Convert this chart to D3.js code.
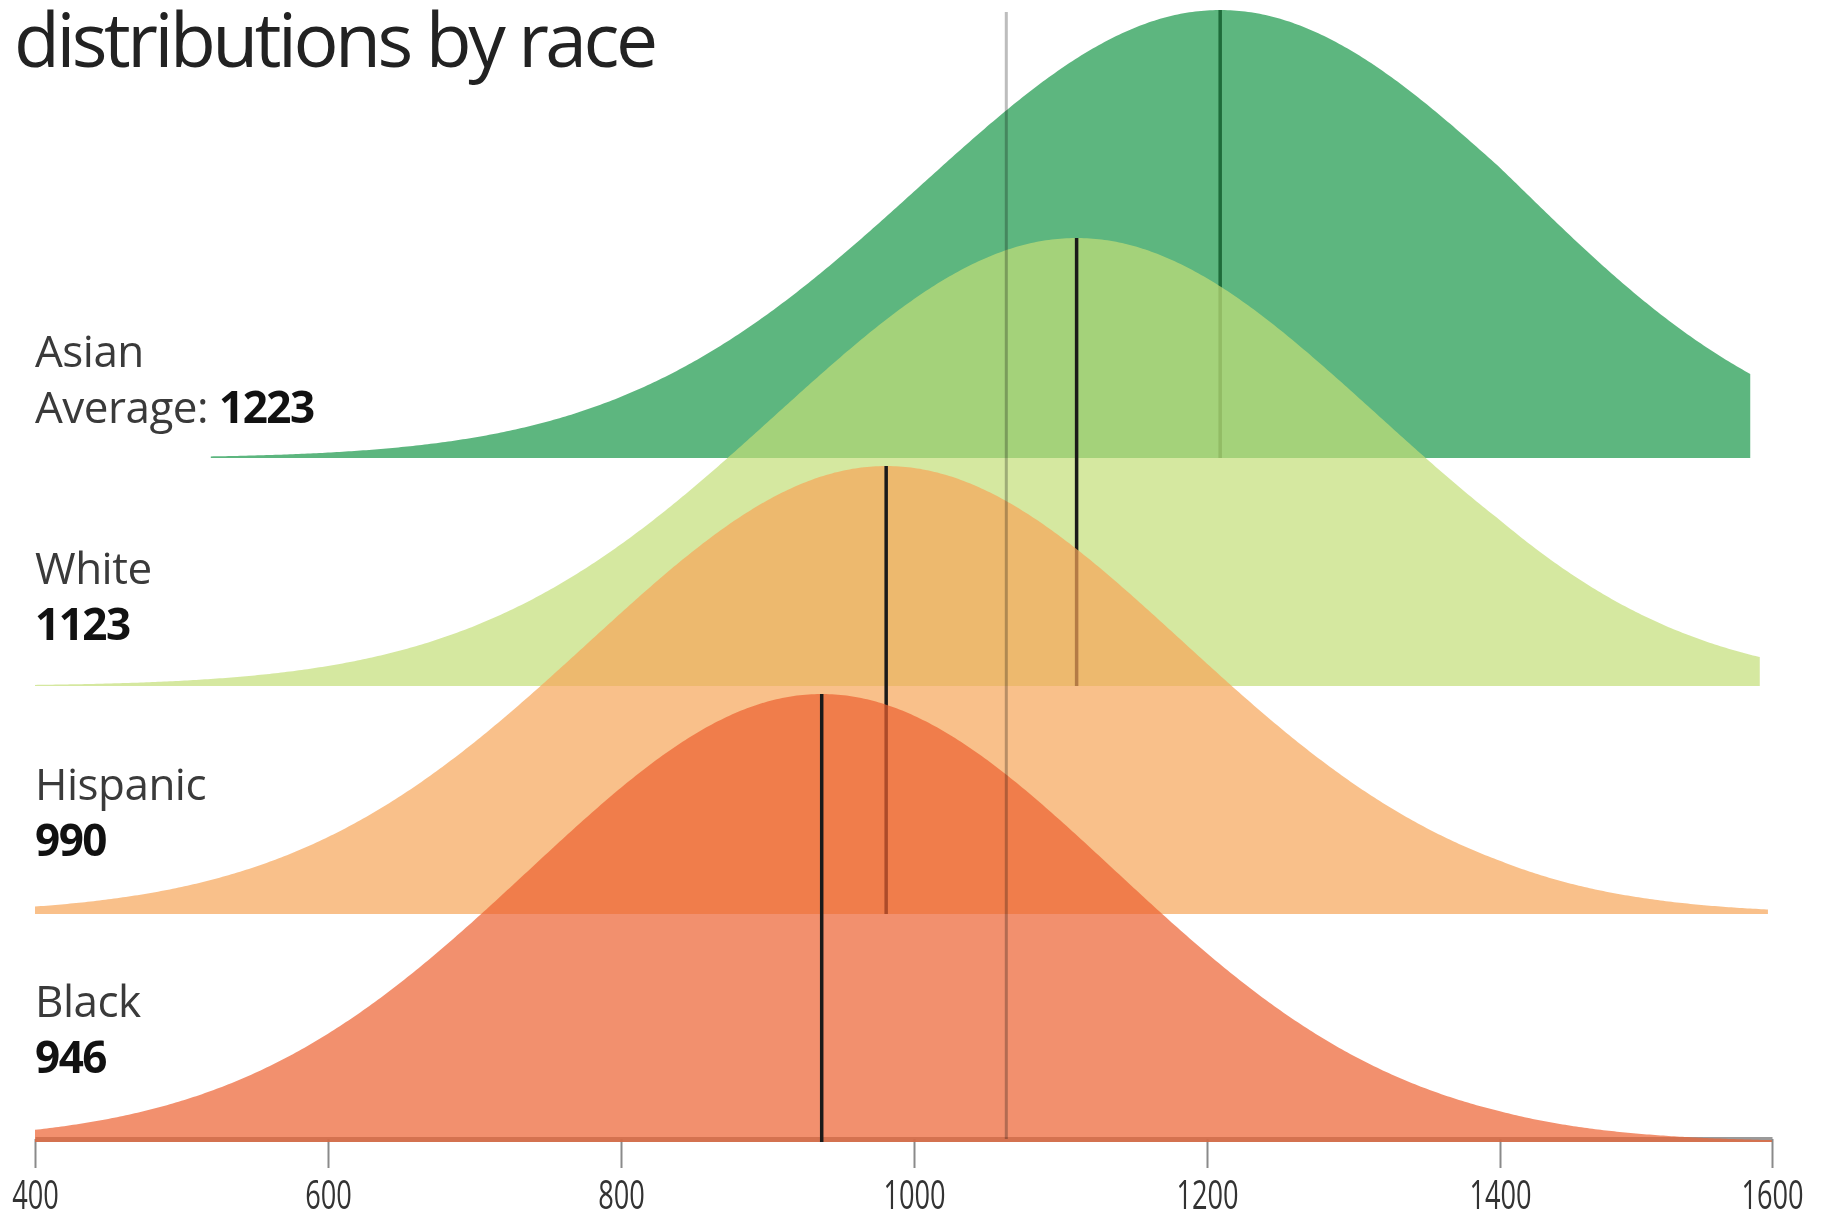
<!DOCTYPE html>
<html>
<head>
<meta charset="utf-8">
<script src="https://cdn.jsdelivr.net/npm/d3@7"></script>
<style>
  html, body { margin: 0; padding: 0; background: #fff; }
  svg { display: block; }
  text { font-family: "Open Sans", "Noto Sans", sans-serif; }
</style>
</head>
<body>
<script>
// groups, top to bottom
var groups = ["Asian", "White", "Hispanic", "Black"];
var avgLabels = ["1223", "1123", "990", "946"];
// where each curve peaks / its mean line sits
var peakScores = [1209, 1111, 981, 937];
var spreads = [205, 205, 203, 200];
var curveStart = [520, 400, 400, 400];
var curveEnd = [1584, 1591, 1597, 1600];
var overallAvg = 1063;
var tickValues = [400, 600, 800, 1000, 1200, 1400, 1600];
var colors = ["#189748", "#c3de77", "#f6a558", "#ec6131"];
var lineColors = ["#1e6b3a", "#1a1a1a", "#1a1a1a", "#1a1a1a"];

var width = 1826, height = 1220;
var axisY = 1139, peakH = 448;

var svg = d3.select("body").append("svg")
  .attr("width", width)
  .attr("height", height);

var x = d3.scaleLinear().domain([400, 1400, 1600]).range([35, 1500, 1772]);
var row = d3.scalePoint().domain(groups).range([458, 1142]);
var labelRow = d3.scalePoint().domain(groups).range([367, 1017]);
var h = d3.scaleLinear().domain([0, 1]).range([0, peakH]);

function density(s, i) {
  var z = (s - peakScores[i]) / spreads[i];
  return Math.exp(-0.5 * z * z);
}

// axis first, curves sit over it
var axis = svg.append("g")
  .attr("transform", "translate(0," + axisY + ")")
  .call(d3.axisBottom(x).tickValues(tickValues).tickSize(29).tickSizeOuter(0).tickPadding(13).tickFormat(d3.format("d")));
axis.select(".domain").attr("stroke", "#9a9a9a").attr("stroke-width", 5);
axis.selectAll(".tick line").attr("stroke", "#8a8a8a").attr("stroke-width", 2);
axis.selectAll(".tick text")
  .attr("font-family", "'Liberation Sans', Arial, sans-serif")
  .attr("font-size", 40)
  .attr("fill", "#333")
  .attr("transform", "scale(0.68,1)");

groups.forEach(function (g, i) {
  var base = row(g);
  var pts = d3.range(curveStart[i], curveEnd[i], 2).concat([curveEnd[i]]);
  var area = d3.area()
    .x(function (s) { return x(s); })
    .y0(base)
    .y1(function (s) { return base - h(density(s, i)); });

  svg.append("path")
    .datum(pts)
    .attr("d", area)
    .attr("fill", colors[i])
    .attr("fill-opacity", 0.7);

  svg.append("line")
    .attr("x1", x(peakScores[i])).attr("x2", x(peakScores[i]))
    .attr("y1", base - h(1)).attr("y2", base)
    .attr("stroke", lineColors[i])
    .attr("stroke-width", 3.5);
});

// overall average line
svg.append("line")
  .attr("x1", x(overallAvg)).attr("x2", x(overallAvg))
  .attr("y1", 12).attr("y2", axisY)
  .attr("stroke", "#bdbdbd")
  .attr("stroke-width", 3)
  .style("mix-blend-mode", "multiply");

// labels
groups.forEach(function (g, i) {
  var y0 = labelRow(g);
  svg.append("text")
    .attr("x", 35).attr("y", y0)
    .attr("font-size", 44)
    .attr("letter-spacing", -0.5)
    .attr("fill", "#3a3a3a")
    .text(g);
  var t = svg.append("text")
    .attr("x", 35).attr("y", y0 + 56)
    .attr("font-size", 44)
    .attr("letter-spacing", -0.5)
    .attr("fill", "#3a3a3a");
  if (i === 0) t.append("tspan").text("Average: ");
  t.append("tspan")
    .attr("font-weight", "bold")
    .attr("font-size", 44)
    .attr("letter-spacing", -1.5)
    .attr("fill", "#111")
    .text(avgLabels[i]);
});

svg.append("text")
  .attr("x", 14).attr("y", 67)
  .attr("font-size", 75)
  .attr("letter-spacing", -3.5)
  .attr("fill", "#222")
  .text("distributions by race");
</script>
</body>
</html>
